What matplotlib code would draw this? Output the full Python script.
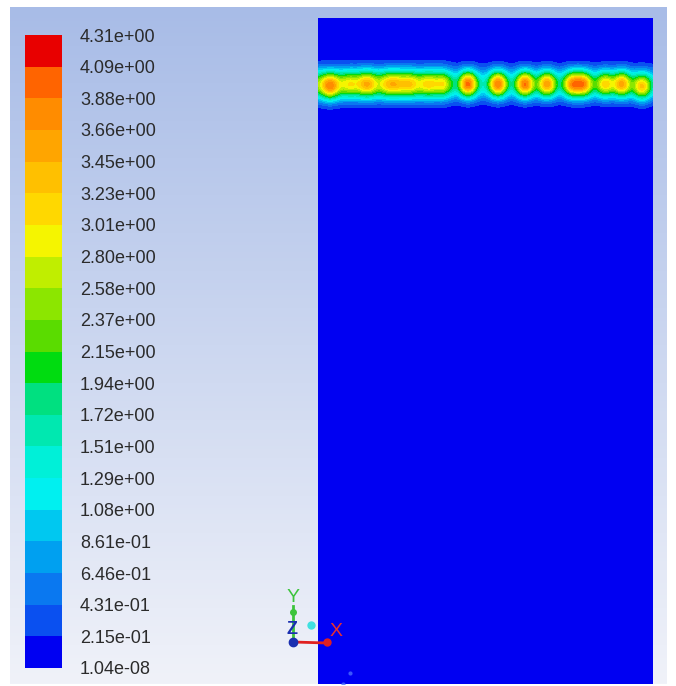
import numpy as np
import matplotlib
matplotlib.use('Agg')
import matplotlib.pyplot as plt

# ---- data -------------------------------------------------------------
levels = [1.04e-08, 0.215, 0.431, 0.646, 0.861, 1.08, 1.29, 1.51, 1.72, 1.94,
          2.15, 2.37, 2.58, 2.80, 3.01, 3.23, 3.45, 3.66, 3.88, 4.09, 4.31]
level_labels = ['1.04e-08', '2.15e-01', '4.31e-01', '6.46e-01', '8.61e-01',
                '1.08e+00', '1.29e+00', '1.51e+00', '1.72e+00', '1.94e+00',
                '2.15e+00', '2.37e+00', '2.58e+00', '2.80e+00', '3.01e+00',
                '3.23e+00', '3.45e+00', '3.66e+00', '3.88e+00', '4.09e+00',
                '4.31e+00']
band_colors = ['#0000f2', '#0a50f0', '#0a78f0', '#00a0f0', '#00c8f0',
               '#00f0f0', '#00f0d8', '#00e8b0', '#00e080', '#00dc10',
               '#5adc00', '#8ce600', '#c0ee00', '#f5f500', '#ffd800',
               '#ffc000', '#ffa500', '#ff8c00', '#ff6400', '#e80000']

# background ridge of the band (domain px from left edge, value on centre line)
ridge_x = [0, 125, 140, 335]
ridge_amp = [2.3, 2.3, 1.2, 1.2]

# hot spots in the band (domain px: x from left edge, depth from top edge,
# excess value above the ridge)
spot_x = [12, 32, 49, 70, 79, 92, 110, 125, 150, 180, 207, 229, 254, 266, 287, 304, 324]
spot_depth = [69, 66, 66, 66, 66, 66, 66, 66, 66, 66, 66, 66, 66, 66, 66, 66, 69]
spot_peak = [1.6, 0.7, 1.2, 0.75, 0.75, 0.9, 0.8, 0.7, 2.75, 2.65, 2.7, 2.4, 2.25, 2.25, 1.9, 2.3, 2.1]

DOM_W, DOM_H = 335, 665
BAND_DEPTH = 66

# ---- figure -----------------------------------------------------------
W, H = 676, 686
fig = plt.figure(figsize=(W / 100, H / 100), dpi=100)
fig.patch.set_facecolor('white')

# background gradient (pixel coordinates)
bg = fig.add_axes([0, 0, 1, 1])
bg.set_xlim(0, W)
bg.set_ylim(H, 0)
bg.axis('off')
top = np.array([168, 188, 231]) / 255
bot = np.array([240, 242, 249]) / 255
t = np.linspace(0, 1, 256)[:, None]
grad = (top[None, :] * (1 - t) + bot[None, :] * t)[:, None, :]
bg.imshow(grad, extent=[10, 667, 684, 7], aspect='auto', zorder=0)

# colorbar
cb_left, cb_right, cb_top, cb_bot = 25, 62, 35, 668
cax = fig.add_axes([cb_left / W, 1 - cb_bot / H, (cb_right - cb_left) / W,
                    (cb_bot - cb_top) / H])
for i in range(len(band_colors)):
    cax.axhspan(i, i + 1, color=band_colors[i], lw=0)
cax.set_xlim(0, 1)
cax.set_ylim(0, len(band_colors))
cax.set_xticks([])
cax.set_yticks(range(len(level_labels)))
cax.set_yticklabels(level_labels, fontsize=13, family='Liberation Sans',
                    color='#2b2b2b')
cax.yaxis.tick_right()
cax.tick_params(axis='y', length=0, pad=13)
for s in cax.spines.values():
    s.set_visible(False)

# domain
dom_left, dom_right, dom_top, dom_bot = 318, 653, 18, 684
ax = fig.add_axes([dom_left / W, 1 - dom_bot / H, (dom_right - dom_left) / W,
                   (dom_bot - dom_top) / H])
x = np.linspace(0, DOM_W, 336)
y = np.linspace(0, DOM_H, 666)
X, Y = np.meshgrid(x, y)
ridge = np.interp(X, ridge_x, ridge_amp)
F = ridge * np.exp(-((Y - (DOM_H - BAND_DEPTH)) ** 2) / (2 * 10.5 ** 2))
sx, sy = 6.3, 9.0
for px, pd, pk in zip(spot_x, spot_depth, spot_peak):
    py = DOM_H - pd
    F += pk * np.exp(-((X - px) ** 2) / (2 * sx ** 2) - ((Y - py) ** 2) / (2 * sy ** 2))
F = np.clip(F, levels[0], levels[-1])
ax.set_facecolor(band_colors[0])
ax.contourf(X, Y, F, levels=levels, colors=band_colors)
ax.set_xlim(0, DOM_W)
ax.set_ylim(0, DOM_H)
ax.axis('off')

# small specks in domain
ax.plot([32, 25], [DOM_H - (672 - 18), DOM_H - (683 - 18)], 'o', ms=3,
        color='#4a6cff', mec='none', alpha=0.8)

# axis triad overlay (pixel coordinates)
ov = fig.add_axes([0, 0, 1, 1])
ov.set_xlim(0, W)
ov.set_ylim(H, 0)
ov.axis('off')
ov.patch.set_alpha(0)
ov.plot([293, 293], [642, 606], color='#3cc43c', lw=2)
ov.plot([293], [612], 'o', color='#3cc43c', ms=4)
ov.plot([293, 327], [642, 643], color='#e02020', lw=2)
ov.plot([327], [642], 'o', color='#e02020', ms=5)
ov.plot([293], [642], 'o', color='#1a2fb0', ms=6)
ov.plot([311], [625], 'o', color='#40e0e0', ms=5)
ov.text(293, 597, 'Y', color='#3cc43c', fontsize=14, ha='center', va='center',
        family='Liberation Sans')
ov.text(292, 630, 'Z', color='#1a2fb0', fontsize=13, ha='center', va='center',
        family='Liberation Sans', fontweight='bold')
ov.text(336, 631, 'X', color='#e83030', fontsize=14, ha='center', va='center',
        family='Liberation Sans')

fig.savefig('out.png', dpi=100)
